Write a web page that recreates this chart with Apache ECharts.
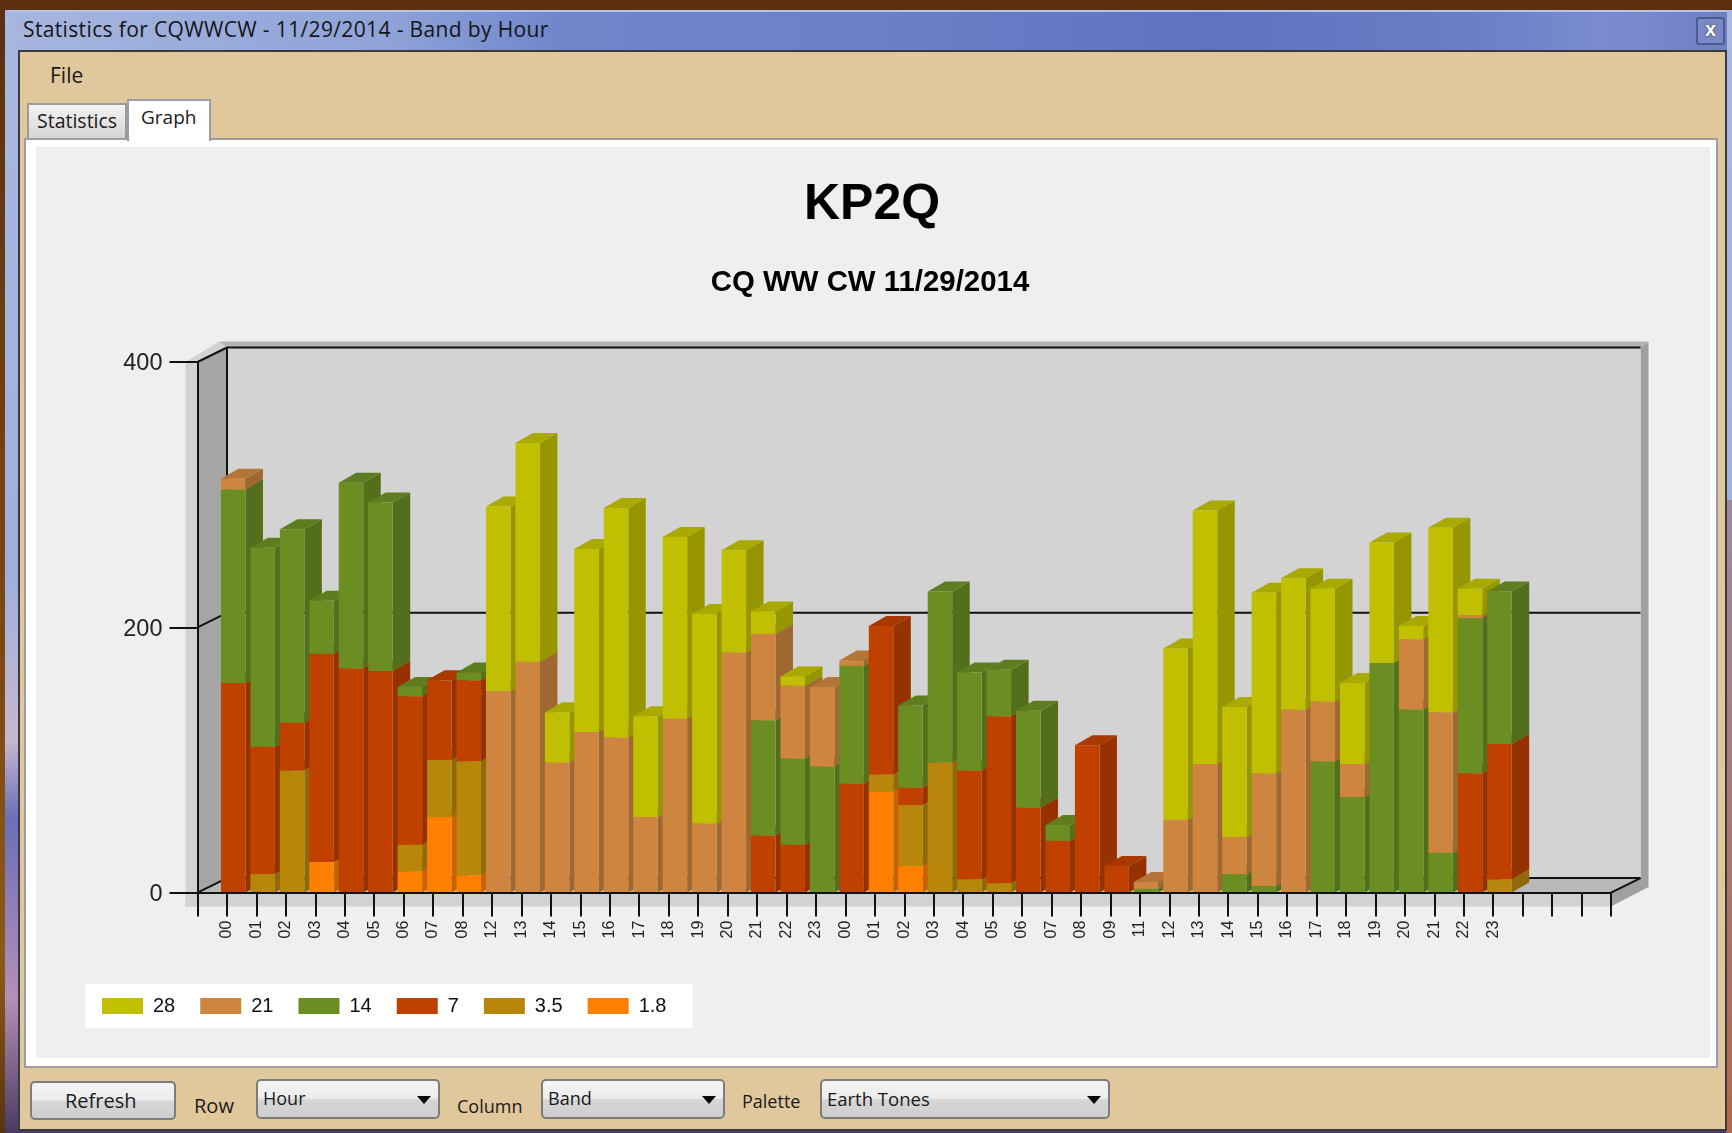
<!DOCTYPE html>
<html>
<head>
<meta charset="utf-8">
<title>KP2Q band by hour</title>
<script src="https://cdn.jsdelivr.net/npm/echarts@6/dist/echarts.min.js"></script>
<style>
  html, body { margin: 0; padding: 0; width: 1732px; height: 1133px; overflow: hidden; background: #5a2e10; }
  body { font-family: "Open Sans", "Noto Sans", sans-serif; color: #1a1a1a; }
  .box { position: absolute; box-sizing: border-box; }
  .txt { position: absolute; white-space: nowrap; }
  .ctl { position: absolute; box-sizing: border-box; border: 2px solid #7c7c7c; border-radius: 5px;
         background: linear-gradient(#f4f4f4 0, #ececec 48%, #d6d6d6 52%, #cecece 100%); font-size: 18px; }
  .ctl span { position: absolute; left: 5px; top: 5px; }
  .ctl i { position: absolute; right: 7px; top: 15px; width: 0; height: 0;
           border-left: 7px solid transparent; border-right: 7px solid transparent; border-top: 8px solid #000; }
  #chart { position: absolute; left: 0; top: 0; width: 1732px; height: 1133px; }
</style>
</head>
<body>
<!-- window frame -->
<div class="box" style="left:0;top:0;width:1732px;height:11px;background:#5c2f10"></div>
<div class="box" style="left:0;top:0;width:5px;height:1133px;background:linear-gradient(#5c2f10 0,#7d4a14 60%,#8a5a18 85%,#5a3410 100%)"></div>
<div class="box" style="left:5px;top:10px;width:1727px;height:1123px;background:linear-gradient(#a9b8e0 0,#9db0dc 50%,#c7b7d0 65%,#6a6fb8 72%,#b48fb8 88%,#4a3a60 100%)"></div>
<div class="box" style="left:1726px;top:500px;width:6px;height:633px;background:linear-gradient(#9a8aa0,#b0684e)"></div>
<div class="box" style="left:9px;top:10px;width:1718px;height:42px;background:linear-gradient(90deg,#a6b6df 0,#8fa3d8 22%,#6f86cb 32%,#6a80c8 50%,#5d73bf 70%,#6a7ec6 85%,#7a8bd0 93%,#6f7fc0 100%);border-top:2px solid #b9c5e6"></div>
<div class="txt" style="left:23px;top:15px;font-size:21px;color:#151515;letter-spacing:.36px">Statistics for CQWWCW - 11/29/2014 - Band by Hour</div>
<div class="box" style="left:1696px;top:17px;width:29px;height:28px;border:2px solid #4c5a8c;border-radius:3px;background:#7a88c8;color:#fff;font:bold 20px/21px 'Liberation Sans',sans-serif;text-align:center;text-shadow:0 0 2px #222">x</div>
<!-- tan client area -->
<div class="box" style="left:18px;top:50px;width:1709px;height:1081px;background:#e0c79c;border:2px solid #3b3b3b"></div>
<div class="txt" style="left:50px;top:61px;font-size:21px">File</div>
<div class="box" style="left:27px;top:103px;width:100px;height:36px;background:linear-gradient(#f4f4f4,#d4d4d4);border:2px solid #9a9a9a;border-bottom:0"></div>
<div class="txt" style="left:37px;top:107px;font-size:19.5px">Statistics</div>
<div class="box" style="left:24px;top:138px;width:1694px;height:930px;background:#fff;border:2px solid #9c9ca4"></div>
<div class="box" style="left:127px;top:99px;width:84px;height:42px;background:#fff;border:2px solid #9c9ca4;border-bottom:0"></div>
<div class="txt" style="left:141px;top:104px;font-size:19px">Graph</div>
<div class="box" style="left:36px;top:147px;width:1674px;height:911px;background:#efefef"></div>
<!-- bottom controls -->
<div class="ctl" style="left:30px;top:1081px;width:146px;height:39px;text-align:center"><span style="left:33px;top:4px;font-size:20px">Refresh</span></div>
<div class="txt" style="left:194px;top:1092px;font-size:20px">Row</div>
<div class="ctl" style="left:256px;top:1079px;width:184px;height:40px"><span>Hour</span><i></i></div>
<div class="txt" style="left:457px;top:1094px;font-size:18px">Column</div>
<div class="ctl" style="left:541px;top:1079px;width:184px;height:40px"><span>Band</span><i></i></div>
<div class="txt" style="left:742px;top:1089px;font-size:18px">Palette</div>
<div class="ctl" style="left:820px;top:1079px;width:290px;height:40px"><span style="font-size:18.5px">Earth Tones</span><i></i></div>

<div id="chart"></div>
<script>
// hours on the axis: blank first tick, then the 44 hours with QSOs, then 4 blank ticks
const hours = ['', '00', '01', '02', '03', '04', '05', '06', '07', '08', '12', '13', '14', '15', '16', '17', '18', '19', '20', '21', '22', '23',
  '00', '01', '02', '03', '04', '05', '06', '07', '08', '09', '11', '12', '13', '14', '15', '16', '17', '18', '19', '20', '21', '22', '23', '', '', '', ''];

// one value per hour, stacked bottom to top: 1.8, 3.5, 7, 14, 21, 28
const band18 = [0, 0, 0, 23, 0, 0, 16, 57, 13, 0,
  0, 0, 0, 0, 0, 0, 0, 0, 0, 0,
  0, 0, 76, 20, 0, 0, 0, 0, 0, 0,
  0, 0, 0, 0, 0, 0, 0, 0, 0, 0,
  0, 0, 0, 0];
const band35 = [0, 14, 92, 0, 0, 0, 20, 43, 86, 0,
  0, 0, 0, 0, 0, 0, 0, 0, 0, 0,
  0, 0, 13, 46, 98, 10, 7, 0, 0, 0,
  0, 0, 0, 0, 0, 0, 0, 0, 0, 0,
  0, 0, 0, 10];
const band7 = [158, 96, 36, 157, 169, 167, 112, 60, 61, 0,
  0, 0, 0, 0, 0, 0, 0, 0, 43, 36,
  0, 82, 112, 13, 0, 82, 126, 64, 39, 111,
  20, 0, 0, 0, 0, 0, 0, 0, 0, 0,
  0, 0, 90, 102];
const band14 = [146, 150, 146, 40, 140, 127, 7, 0, 6, 0,
  0, 0, 0, 0, 0, 0, 0, 0, 87, 65,
  95, 89, 0, 62, 129, 74, 35, 73, 12, 0,
  0, 3, 0, 0, 14, 5, 0, 99, 72, 173,
  138, 30, 117, 115];
const band21 = [8, 0, 0, 0, 0, 0, 0, 0, 0, 152,
  174, 98, 121, 117, 57, 131, 52, 181, 65, 55,
  60, 4, 0, 0, 0, 0, 0, 0, 0, 0,
  0, 5, 55, 97, 28, 85, 138, 45, 25, 0,
  53, 106, 2, 0];
const band28 = [0, 0, 0, 0, 0, 0, 0, 0, 0, 139,
  165, 38, 138, 173, 76, 137, 158, 77, 17, 7,
  0, 0, 0, 0, 0, 0, 0, 0, 0, 0,
  0, 0, 129, 191, 98, 136, 99, 85, 61, 91,
  10, 139, 20, 0];

const bandNames = ['1.8', '3.5', '7', '14', '21', '28'];
const bandValues = [band18, band35, band7, band14, band21, band28];
const bandColors = ['#ff7f00', '#b8860b', '#c04000', '#6b8e23', '#cd853f', '#c0c000'];

function shade(hex, k) {
  const n = parseInt(hex.slice(1), 16);
  const c = [n >> 16, (n >> 8) & 255, n & 255].map(v => Math.round(v * k));
  return 'rgb(' + c.join(',') + ')';
}

// pseudo 3D sizes in pixels
const BAR_LEFT = -6, BAR_WIDTH = 24.5, BAR_DX = 17.5, BAR_DY = 10;
const WALL_DX = 29.5, WALL_DY = 14.5;

function poly(points, fill, z2) {
  return { type: 'polygon', shape: { points: points }, style: { fill: fill }, z2: z2, silent: true };
}

function barItem(bandIndex) {
  return function (params, api) {
    const cat = api.value(0);
    const from = api.coord([cat, api.value(1)]);
    const to = api.coord([cat, api.value(2)]);
    const x0 = from[0] + BAR_LEFT, x1 = x0 + BAR_WIDTH;
    const yb = from[1], yt = to[1];
    const color = bandColors[bandIndex];
    const z = 100 + cat * 10 + bandIndex;
    return {
      type: 'group',
      children: [
        poly([[x1, yb], [x1 + BAR_DX, yb - BAR_DY], [x1 + BAR_DX, yt - BAR_DY], [x1, yt]], shade(color, 0.78), z),
        poly([[x0, yt], [x1, yt], [x1 + BAR_DX, yt - BAR_DY], [x0 + BAR_DX, yt - BAR_DY]], shade(color, 0.88), z),
        poly([[x0, yb], [x1, yb], [x1, yt], [x0, yt]], color, z)
      ]
    };
  };
}

// walls, floor and the wall thickness, all hung off the grid corners
function wallItem(params, api) {
  const lastCat = hours.length - 1;
  const a = api.coord([0, 0]), t = api.coord([0, 400]), m = api.coord([0, 200]), r = api.coord([lastCat, 0]);
  const bx = a[0] + WALL_DX, bb = a[1] - WALL_DY, bt = t[1] - WALL_DY, bm = m[1] - WALL_DY, br = r[0] + WALL_DX;
  const ln = (x1, y1, x2, y2) => ({
    type: 'line', shape: { x1: x1, y1: y1, x2: x2, y2: y2 }, style: { stroke: '#111', lineWidth: 2 }, z2: 5, silent: true
  });
  return {
    type: 'group',
    children: [
      poly([[a[0] - 12, t[1]], [bx - 8, bt - 6], [bx, bt], [a[0], t[1]], [a[0], a[1] + 14], [a[0] - 12, a[1] + 14]], '#d2d2d2', 1),
      poly([[bx - 8, bt - 6], [br + 8, bt - 6], [br, bt], [bx, bt]], '#b4b4b4', 1),
      poly([[br, bt], [br + 8, bt - 6], [br + 8, bb + 9], [r[0], r[1] + 14], [r[0], r[1]], [br, bb]], '#a0a0a0', 1),
      poly([[a[0] - 12, a[1]], [r[0], r[1]], [r[0], r[1] + 14], [a[0] - 12, a[1] + 14]], '#d2d2d2', 1),
      poly([[bx, bt], [br, bt], [br, bb], [bx, bb]], '#d3d3d3', 2),
      poly([[a[0], t[1]], [bx, bt], [bx, bb], [a[0], a[1]]], '#a5a5a5', 2),
      poly([[a[0], a[1]], [bx, bb], [br, bb], [r[0], r[1]]], '#b9b9b9', 2),
      ln(bx, bt, br, bt), ln(bx, bm, br, bm), ln(bx, bb, br, bb), ln(bx, bt, bx, bb),
      ln(a[0], t[1], bx, bt), ln(a[0], m[1], bx, bm), ln(a[0], a[1], bx, bb), ln(r[0], r[1], br, bb)
    ]
  };
}

const chart = echarts.init(document.getElementById('chart'), null, { renderer: 'canvas' });

const series = [{
  type: 'custom',
  name: 'walls',
  z: 1,
  silent: true,
  renderItem: wallItem,
  data: [[0]],
  encode: { x: 0 }
}];

bandValues.forEach((values, b) => {
  series.push({
    type: 'custom',
    name: bandNames[b],
    z: 2,
    silent: true,
    itemStyle: { color: bandColors[b] },
    renderItem: barItem(b),
    encode: { x: 0, y: [1, 2] },
    data: values.map((v, i) => {
      let base = 0;
      for (let k = 0; k < b; k++) base += bandValues[k][i];
      return [i + 1, base, base + v];
    }).filter(d => d[2] > d[1])
  });
});

chart.setOption({
  animation: false,
  backgroundColor: 'transparent',
  textStyle: { fontFamily: '"Liberation Sans", Arial, sans-serif' },
  title: [
    { text: 'KP2Q', left: 872, top: 180, padding: 0, textAlign: 'center',
      textStyle: { fontSize: 50, fontWeight: 'bold', color: '#000', fontFamily: '"Liberation Sans", Arial, sans-serif' } },
    { text: 'CQ WW CW 11/29/2014', left: 870, top: 268, padding: 0, textAlign: 'center',
      textStyle: { fontSize: 29.4, fontWeight: 'bold', color: '#000', fontFamily: '"Liberation Sans", Arial, sans-serif' } }
  ],
  legend: {
    left: 85, top: 984,
    padding: [12, 26, 12, 17],
    backgroundColor: '#fff',
    icon: 'rect',
    itemWidth: 41,
    itemHeight: 16,
    itemGap: 25,
    selectedMode: false,
    data: ['28', '21', '14', '7', '3.5', '1.8'],
    textStyle: { fontSize: 20, color: '#111', padding: [0, 0, 0, 5] }
  },
  grid: { left: 197.5, right: 121, top: 362, bottom: 240.4, containLabel: false },
  xAxis: {
    type: 'category',
    z: 5,
    data: hours,
    boundaryGap: false,
    axisLine: { show: true, lineStyle: { color: '#111', width: 2 } },
    axisTick: { show: true, length: 24, interval: 0, lineStyle: { color: '#111', width: 2 } },
    axisLabel: { interval: 0, rotate: 90, fontSize: 16, color: '#222', margin: 28 },
    splitLine: { show: false }
  },
  yAxis: {
    type: 'value',
    z: 5,
    min: 0,
    max: 400,
    interval: 200,
    axisLine: { show: true, lineStyle: { color: '#111', width: 2 } },
    axisTick: { show: true, length: 28, lineStyle: { color: '#111', width: 2 } },
    axisLabel: {
      margin: 35,
      formatter: '{n|{value}}',
      rich: { n: { fontSize: 23.5, color: '#222', padding: [4, 0, 0, 0] } }
    },
    splitLine: { show: false }
  },
  tooltip: { show: false },
  series: series
});
</script>
</body>
</html>
